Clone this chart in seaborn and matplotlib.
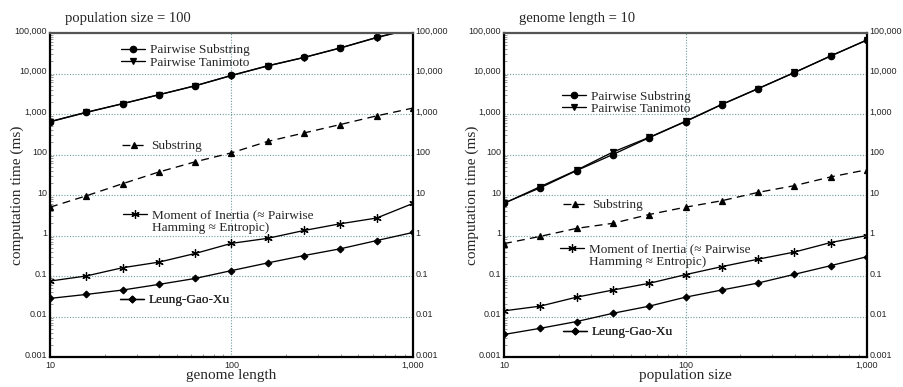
import numpy as np
import pandas as pd
import matplotlib
matplotlib.use('Agg')
import matplotlib.pyplot as plt
import matplotlib.transforms as mtransforms
from matplotlib.lines import Line2D
from matplotlib.ticker import FuncFormatter, FixedLocator, NullFormatter
import seaborn as sns

sns.set_style('white')
# tick labels are sans (Arial-like); all other text is set to serif explicitly
plt.rcParams['font.family'] = ['Liberation Sans', 'DejaVu Sans']
SERIF = ['Liberation Serif', 'DejaVu Serif']

# x positions (log-spaced sample sizes)
x_points = [10, 15.8, 25.1, 39.8, 63.1, 100, 158, 251, 398, 631, 1000]

# left panel: population size = 100, x = genome length
left_pair_sub = [650, 1100, 1800, 3000, 5000, 9000, 15500, 25000, 43000, 78000, 130000]
left_pair_tan = [640, 1090, 1790, 2980, 4950, 8900, 15300, 24800, 42500, 77000, 128000]
left_substring = [5, 9.5, 19, 37, 66, 110, 210, 340, 550, 900, 1400]
left_moment = [0.075, 0.1, 0.16, 0.22, 0.36, 0.64, 0.85, 1.33, 1.95, 2.7, 6.2]
left_lgx = [0.028, 0.035, 0.045, 0.062, 0.087, 0.136, 0.21, 0.32, 0.47, 0.75, 1.19]

# right panel: genome length = 10, x = population size
right_pair_sub = [6.3, 15, 40, 100, 260, 650, 1700, 4200, 10500, 27000, 67000]
right_pair_tan = [6.2, 16, 41, 115, 265, 660, 1720, 4250, 10600, 27200, 67500]
right_substring = [0.63, 0.95, 1.5, 2.0, 3.3, 5.0, 7.2, 11.6, 17, 28, 42]
right_moment = [0.0138, 0.018, 0.03, 0.045, 0.066, 0.108, 0.17, 0.26, 0.39, 0.67, 1.0]
right_lgx = [0.0036, 0.0051, 0.0075, 0.012, 0.018, 0.03, 0.045, 0.067, 0.11, 0.18, 0.3]

y_decades = [0.001, 0.01, 0.1, 1, 10, 100, 1000, 10000, 100000]
x_decades = [10, 100, 1000]

series_labels = ['Pairwise Substring', 'Pairwise Tanimoto', 'Substring',
                 'Moment of Inertia (\u2248 Pairwise', 'Leung-Gao-Xu']
moment_second_line = 'Hamming \u2248 Entropic)'

DASH = (0, (6, 4))
ASTER = (6, 2, 0)
styles = [
    dict(marker='o', linestyle='-', markersize=4.6),
    dict(marker='v', linestyle='-', markersize=4.6),
    dict(marker='^', linestyle=DASH, markersize=4.6),
    dict(marker=ASTER, linestyle='-', markersize=6),
    dict(marker='D', linestyle='-', markersize=3.4),
]

W, H = 904, 387
fig = plt.figure(figsize=(W / 100, H / 100), dpi=100)

panels = [
    dict(rect=[50 / W, 1 - 357 / H, 363 / W, 324 / H], title='population size = 100',
         xlabel='genome length', ylab_x=24,
         data=[left_pair_sub, left_pair_tan, left_substring, left_moment, left_lgx],
         # legend anchors in figure pixels: (x of handle start, y centre)
         leg=[(121, 56.5), (122, 146), (123, 222), (120, 300)]),
    dict(rect=[504 / W, 1 - 357 / H, 363 / W, 324 / H], title='genome length = 10',
         xlabel='population size', ylab_x=479,
         data=[right_pair_sub, right_pair_tan, right_substring, right_moment, right_lgx],
         leg=[(562, 102.5), (563, 205), (560, 256), (563, 332)]),
]

grid_col = '#6f9c9c'
fmt = FuncFormatter(lambda v, p: f'{v:,.0f}' if v >= 1 else f'{v:g}')
up = mtransforms.ScaledTranslation(0, 2 / 72, fig.dpi_scale_trans)

# minor tick positions inside the view range
y_minor = [d * k for d in y_decades[:-1] for k in range(2, 10)]
x_minor = [d * k for d in x_decades[:-1] for k in range(2, 10)]

for pn in panels:
    ax = fig.add_axes(pn['rect'])
    for vals, st in zip(pn['data'], styles):
        sns.lineplot(x=x_points, y=vals, ax=ax, color='black', linewidth=0.95,
                     markeredgecolor='black', markerfacecolor='black',
                     markeredgewidth=0.9, **st)
    ax.set_xscale('log')
    ax.set_yscale('log')
    ax.set_xlim(10, 1000)
    ax.set_ylim(1e-3, 1e5)
    ax.yaxis.set_major_locator(FixedLocator(y_decades))
    ax.yaxis.set_minor_locator(FixedLocator(y_minor))
    ax.xaxis.set_major_locator(FixedLocator(x_decades))
    ax.xaxis.set_minor_locator(FixedLocator(x_minor))
    ax.yaxis.set_minor_formatter(NullFormatter())
    ax.xaxis.set_minor_formatter(NullFormatter())
    ax.xaxis.set_major_formatter(fmt)
    ax.yaxis.set_major_formatter(fmt)
    ax.grid(which='major', color=grid_col, linestyle=(0, (1, 1.5)), linewidth=0.8)
    ax.set_axisbelow(True)

    for side in ['left', 'right', 'bottom']:
        ax.spines[side].set_color('black')
        ax.spines[side].set_linewidth(1.6)
    ax.spines['top'].set_color('#555555')
    ax.spines['top'].set_linewidth(1.6)

    ax.tick_params(which='major', length=0, labelsize=6.5, labelright=True, pad=2)
    ax.tick_params(axis='x', which='major', pad=3)
    ax.tick_params(which='minor', length=2.5, direction='in', color='#888888',
                   left=True, bottom=True, right=False, width=0.6)
    fig.canvas.draw()
    for t in ax.yaxis.get_major_ticks():
        for lbl in (t.label1, t.label2):
            lbl.set_transform(lbl.get_transform() + up)

    ax.set_xlabel(pn['xlabel'], fontsize=11, labelpad=-1, family=SERIF)
    ax.set_ylabel('computation time (ms)', fontsize=11, family=SERIF)
    lx = (pn['ylab_x'] - pn['rect'][0] * W) / (pn['rect'][2] * W)
    ax.yaxis.set_label_coords(lx, 0.5)
    ax.text(0.04, 1.025, pn['title'], transform=ax.transAxes, fontsize=10.5,
            va='bottom', family=SERIF)

    handles = [Line2D([], [], color='black', linewidth=0.95, markeredgecolor='black',
                      markerfacecolor='black', markeredgewidth=0.9, **st) for st in styles]
    blank = Line2D([], [], color='none')
    groups = [
        ([handles[0], handles[1]], series_labels[0:2]),
        ([handles[2]], [series_labels[2]]),
        ([handles[3], blank], [series_labels[3], moment_second_line]),
        ([handles[4]], [series_labels[4]]),
    ]
    for (hs, ls), (px, py) in zip(groups, pn['leg']):
        bx, by = ax.transAxes.inverted().transform(fig.transFigure.transform((px / W, 1 - py / H)))
        lg = ax.legend(hs, ls, loc='center left', bbox_to_anchor=(bx, by), frameon=False,
                       prop={'family': SERIF, 'size': 9.5}, handlelength=1.8,
                       handletextpad=0.4, labelspacing=0.0,
                       borderpad=0, borderaxespad=0, numpoints=1)
        ax.add_artist(lg)

fig.savefig('out.png', dpi=100)
